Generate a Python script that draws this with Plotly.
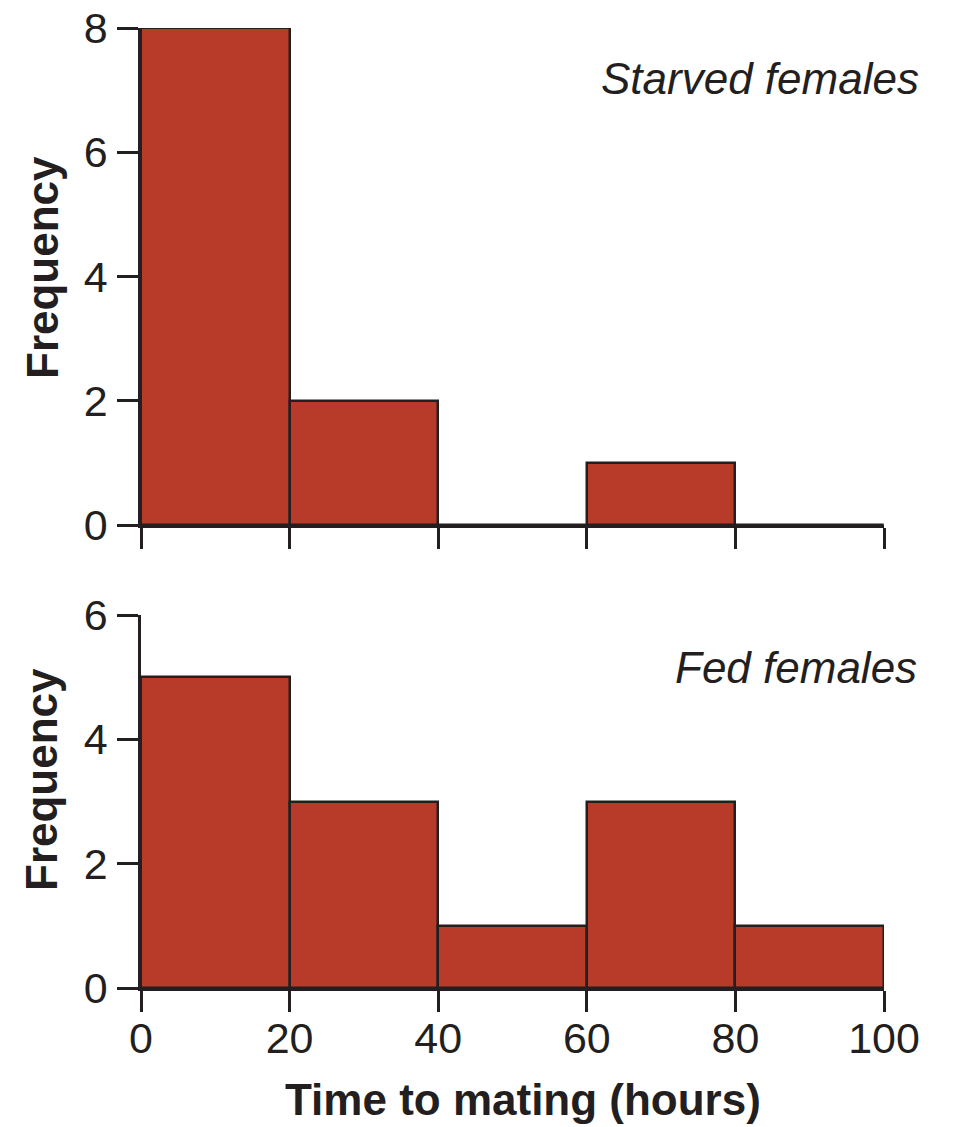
import plotly.graph_objects as go

# Data
bin_starts = [0, 20, 40, 60, 80]
bin_width = 20
starved_counts = [8, 2, 0, 1, 0]
fed_counts = [5, 3, 1, 3, 1]
x_ticks = [0, 20, 40, 60, 80, 100]
y_ticks_top = [0, 2, 4, 6, 8]
y_ticks_bottom = [0, 2, 4, 6]

W, H = 954, 1127
OFF = 8  # page body margin offset
BAR = "#B73B28"
INK = "#231F20"
FONT = "Liberation Sans, Arial, Helvetica, sans-serif"
FS = 43


def px(x):
    return (x - OFF) / W


def py(y):
    return 1 - (y - OFF) / H


centers = [s + bin_width / 2 for s in bin_starts]

fig = go.Figure()
fig.add_trace(go.Bar(x=centers, y=starved_counts, width=[bin_width] * len(centers),
                     marker=dict(color=BAR, line=dict(color=INK, width=2.5)),
                     xaxis="x", yaxis="y", showlegend=False))
fig.add_trace(go.Bar(x=centers, y=fed_counts, width=[bin_width] * len(centers),
                     marker=dict(color=BAR, line=dict(color=INK, width=2.5)),
                     xaxis="x2", yaxis="y2", showlegend=False))

xd = [px(141), px(884)]
top_dom = [py(525), py(28)]
bot_dom = [py(988), py(615)]

axis_common = dict(showline=True, linecolor=INK, linewidth=2.5, ticks="outside",
                   ticklen=21, tickwidth=2.5, tickcolor=INK, showgrid=False,
                   zeroline=False, automargin=False, ticklabeloverflow="allow",
                   tickfont=dict(family=FONT, size=FS, color=INK))

fig.update_layout(
    width=W, height=H, autosize=False,
    margin=dict(l=0, r=0, t=0, b=0, pad=0),
    paper_bgcolor="white", plot_bgcolor="white",
    bargap=0,
    xaxis=dict(domain=xd, range=[0, 100], tickvals=x_ticks, showticklabels=False,
               anchor="y", **axis_common),
    yaxis=dict(domain=top_dom, range=[0, 8], tickvals=y_ticks_top, anchor="x",
               ticklabelstandoff=1, **axis_common),
    xaxis2=dict(domain=xd, range=[0, 100], tickvals=x_ticks, anchor="y2",
                ticklabelstandoff=-10, **axis_common),
    yaxis2=dict(domain=bot_dom, range=[0, 6], tickvals=y_ticks_bottom, anchor="x2",
                ticklabelstandoff=1, **axis_common),
)

ann_font = dict(family=FONT, size=44, color=INK)
fig.add_annotation(text="<i>Starved females</i>", xref="paper", yref="paper",
                   x=px(921), y=py(79), xanchor="right", yanchor="middle",
                   showarrow=False, font=ann_font)
fig.add_annotation(text="<i>Fed females</i>", xref="paper", yref="paper",
                   x=px(919), y=py(667), xanchor="right", yanchor="middle",
                   showarrow=False, font=ann_font)
fig.add_annotation(text="<b>Frequency</b>", xref="paper", yref="paper",
                   x=px(42), y=py(268), xanchor="center", yanchor="middle",
                   textangle=-90, showarrow=False, font=ann_font)
fig.add_annotation(text="<b>Frequency</b>", xref="paper", yref="paper",
                   x=px(42), y=py(780), xanchor="center", yanchor="middle",
                   textangle=-90, showarrow=False, font=ann_font)
fig.add_annotation(text="<b>Time to mating (hours)</b>", xref="paper", yref="paper",
                   x=px(523), y=py(1099), xanchor="center", yanchor="middle",
                   showarrow=False, font=dict(family=FONT, size=44, color=INK))

fig.write_html("out.html")
